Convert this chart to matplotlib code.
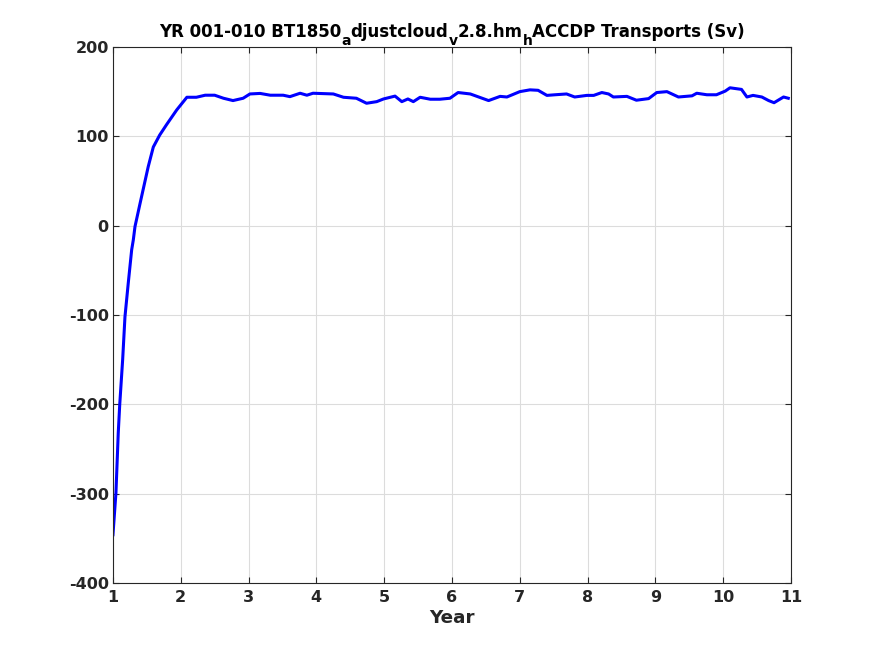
#!/usr/bin/env python
# coding=utf-8

import matplotlib
matplotlib.use("Agg")
import matplotlib.pyplot as plt
from matplotlib.transforms import IdentityTransform

plt.rcParams['axes.unicode_minus'] = False

# transport time series (year, Sv)
year = [1.00, 1.044, 1.078, 1.10, 1.143, 1.177, 1.226, 1.276, 1.30, 1.325,
        1.40, 1.52, 1.595, 1.69, 1.79, 1.94, 2.09, 2.23, 2.36, 2.50,
        2.63, 2.77, 2.92, 3.02, 3.17, 3.32, 3.51, 3.61, 3.76, 3.86,
        3.95, 4.25, 4.40, 4.59, 4.74, 4.89, 4.99, 5.16, 5.26, 5.35,
        5.43, 5.53, 5.68, 5.82, 5.97, 6.09, 6.27, 6.54, 6.71, 6.81,
        7.00, 7.15, 7.27, 7.40, 7.52, 7.69, 7.81, 7.99, 8.09, 8.21,
        8.31, 8.38, 8.58, 8.72, 8.90, 9.02, 9.17, 9.34, 9.54, 9.61,
        9.76, 9.90, 10.03, 10.10, 10.27, 10.35, 10.44, 10.57, 10.67, 10.75,
        10.89, 10.96]
transport = [-346, -299, -232, -200, -150, -102, -64, -27, -16, -1,
             25, 66, 88, 101.5, 113, 129.5, 143.7, 143.7, 146, 146,
             142.6, 140, 142.6, 147.4, 148, 146, 146, 144.4, 148.2, 146,
             148.2, 147.4, 143.7, 142.6, 137, 138.8, 141.8, 145, 138.8, 141.8,
             138.8, 143.7, 141.5, 141.5, 142.6, 149, 147.4, 140, 144.7, 144,
             150, 152, 151.5, 145.8, 146.5, 147.4, 144, 145.8, 145.8, 149,
             147.4, 144, 144.7, 140.4, 142.2, 149, 150, 144, 145.3, 148.2,
             146.5, 146.5, 150.6, 154.3, 152.5, 144, 145.8, 144, 140, 137.6,
             144, 142.6]

xticks = list(range(1, 12))
yticks = list(range(-400, 201, 100))

# title pieces: (text, is_subscript) -- matlab-style tex underscores
title_parts = [('YR 001-010 BT1850', False), ('a', True), ('djustcloud', False),
               ('v', True), ('2.8.hm', False), ('h', True),
               ('ACCDP Transports (Sv)', False)]

axis_color = '#262626'

fig = plt.figure(figsize=(8.75, 6.56), dpi=100)
ax = fig.add_axes([0.1291, 0.1113, 0.7749, 0.8171])

ax.plot(year, transport, '-', color='blue', lw=2.2)

ax.set_xlim(1, 11)
ax.set_ylim(-400, 200)
ax.set_xticks(xticks)
ax.set_yticks(yticks)

ax.grid(True, color='#dcdcdc', lw=0.8)
ax.set_axisbelow(True)

ax.tick_params(direction='in', top=True, right=True, length=4.5,
               color=axis_color, labelcolor=axis_color, labelsize=11.5)
ax.tick_params(axis='x', pad=5)
ax.tick_params(axis='y', pad=3)
for label in ax.get_xticklabels() + ax.get_yticklabels():
    label.set_fontweight('bold')
for sp in ax.spines.values():
    sp.set_color(axis_color)
    sp.set_linewidth(0.8)

ax.set_xlabel('Year', fontsize=13.2, fontweight='bold', color=axis_color, labelpad=3)

# title built piece by piece so the subscripts sit low like matlab's
renderer = fig.canvas.get_renderer()
base_y = 656 - 36.7
sub_y = 656 - 44.7
texts = []
cursor = 0.0
for s, sub in title_parts:
    t = fig.text(cursor, sub_y if sub else base_y, s, transform=IdentityTransform(),
                 fontsize=10 if sub else 12, fontweight='bold', color='black',
                 ha='left', va='baseline')
    cursor += t.get_window_extent(renderer).width
    texts.append(t)
ax_bb = ax.get_window_extent(renderer)
shift = (ax_bb.x0 + ax_bb.x1) / 2.0 - cursor / 2.0
for t in texts:
    x, y = t.get_position()
    t.set_position((x + shift, y))

plt.savefig('out.png', dpi=100)
